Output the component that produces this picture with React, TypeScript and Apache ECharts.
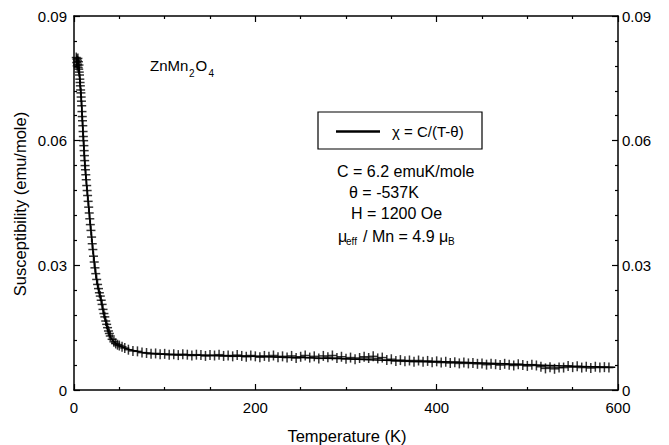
import React, { useEffect, useRef } from "react";
import * as echarts from "echarts";

// Measured points: temperature (K) and susceptibility (emu/mole)
const tempK = [
  2.5, 3.0, 3.2, 3.5, 3.8, 4.0, 4.3, 4.6, 4.9, 5.2, 5.5, 5.8, 6.1, 6.4, 6.7, 7.0, 7.3, 7.6, 7.9, 8.2,
  8.5, 8.8, 9.1, 9.4, 9.7, 10.0, 10.3, 10.6, 10.9, 11.2, 11.5, 11.8, 12.2, 12.6, 13.0, 13.5, 14.0, 14.5,
  15.0, 15.6, 16.2, 16.8, 17.4, 18.0, 18.7, 19.4, 20.1, 20.8, 21.5, 22.3, 23.1, 24.0, 25.0, 26.0, 27.0,
  28.0, 29.0, 30.0, 31.0, 32.0, 33.0, 34.0, 35.0, 36.0, 37.0, 38.0, 39.0, 40.0, 42.0, 44.0, 46.0, 48.0,
  50.0, 53.0, 56.0,
  60, 65, 70, 75, 80, 85, 90, 95, 100, 105, 110, 115, 120, 125, 130, 135, 140, 145, 150, 155, 160, 165,
  170, 175, 180, 185, 190, 195, 200, 205, 210, 215, 220, 225, 230, 235, 240, 245, 250, 255, 260, 265,
  270, 275, 280, 285, 290, 295, 300, 305, 310, 315, 320, 325, 330, 335, 340, 345, 350, 355, 360, 365,
  370, 375, 380, 385, 390, 395, 400, 405, 410, 415, 420, 425, 430, 435, 440, 445, 450, 455, 460, 465,
  470, 475, 480, 485, 490, 495, 500, 505, 510, 515, 520, 525, 530, 535, 540, 545, 550, 555, 560, 565,
  570, 575, 580, 585, 590, 595, 600,
];
const chi = [
  0.0800, 0.0788, 0.0796, 0.0780, 0.0792, 0.0784, 0.0798, 0.0776, 0.0790, 0.0772, 0.0782, 0.0765, 0.0758,
  0.0748, 0.0740, 0.0732, 0.0722, 0.0715, 0.0705, 0.0695, 0.0684, 0.0670, 0.0658, 0.0648, 0.0636, 0.0622,
  0.0610, 0.0600, 0.0588, 0.0576, 0.0564, 0.0552, 0.0540, 0.0530, 0.0518, 0.0506, 0.0492, 0.0480, 0.0468,
  0.0454, 0.0440, 0.0426, 0.0412, 0.0398, 0.0384, 0.0368, 0.0352, 0.0338, 0.0322, 0.0308, 0.0294, 0.0280,
  0.0266, 0.0254, 0.0244, 0.0234, 0.0226, 0.0216, 0.0206, 0.0194, 0.0184, 0.0176, 0.0166, 0.0158, 0.0150,
  0.0142, 0.0136, 0.0130, 0.0122, 0.0116, 0.0112, 0.0109, 0.0107, 0.0104, 0.0101,
  0.0097, 0.0094, 0.0093, 0.0090, 0.0089, 0.0087, 0.0088, 0.0086, 0.0087, 0.0085, 0.0086, 0.0084, 0.0086,
  0.0085, 0.0083, 0.0085, 0.0084, 0.0082, 0.0084, 0.0083, 0.0085, 0.0082, 0.0083, 0.0081, 0.0084, 0.0082,
  0.0080, 0.0083, 0.0081, 0.0079, 0.0082, 0.0080, 0.0083, 0.0079, 0.0081, 0.0078, 0.0082, 0.0077, 0.0080,
  0.0083, 0.0078, 0.0081, 0.0076, 0.0082, 0.0079, 0.0083, 0.0077, 0.0080, 0.0075, 0.0078, 0.0074, 0.0077,
  0.0080, 0.0077, 0.0081, 0.0076, 0.0078, 0.0072, 0.0074, 0.0070, 0.0072, 0.0069, 0.0071, 0.0068, 0.0071,
  0.0068, 0.0070, 0.0067, 0.0069, 0.0066, 0.0068, 0.0065, 0.0067, 0.0064, 0.0066, 0.0064, 0.0065, 0.0063,
  0.0064, 0.0061, 0.0063, 0.0062, 0.0060, 0.0063, 0.0061, 0.0059, 0.0062, 0.0060, 0.0058, 0.0061, 0.0059,
  0.0056, 0.0052, 0.0055, 0.0051, 0.0054, 0.0054, 0.0058, 0.0055, 0.0057, 0.0054, 0.0056, 0.0053, 0.0056,
  0.0054, 0.0055, 0.0054,
];

// Fit curve chi = C/(T - theta)
const fitT = [3, 5, 6, 7, 8, 9, 10, 11, 12, 14, 16, 18, 20, 22, 24, 26, 28, 30, 32, 35, 38, 41, 45, 50, 55, 60, 70, 80, 100, 150, 200, 250, 300, 350, 400, 450, 500, 550, 597];
const fitChi = [0.0795, 0.0780, 0.0760, 0.0730, 0.0700, 0.0655, 0.0612, 0.0575, 0.0540, 0.0490, 0.0445, 0.0400, 0.0355, 0.0315, 0.0280, 0.0252, 0.0232, 0.0215, 0.0192, 0.0165, 0.0140, 0.0125, 0.0114, 0.0107, 0.0102, 0.0098, 0.0093, 0.0089, 0.0086, 0.0083, 0.0081, 0.0078, 0.0075, 0.0071, 0.0068, 0.0065, 0.0061, 0.0057, 0.0055];

const xTicks = { min: 0, max: 600, interval: 200 };
const yTicks = { min: 0, max: 0.09, interval: 0.03 };

const FONT = '"Liberation Sans", Arial, Helvetica, sans-serif';

export default function App() {
  const ref = useRef<HTMLDivElement>(null);

  useEffect(() => {
    if (!ref.current) return;
    const chart = echarts.init(ref.current, undefined, { renderer: "svg" });
    const pts = tempK.map((t, i) => [t, chi[i]]);
    const fit = fitT.map((t, i) => [t, fitChi[i]]);

    const axisCommon = {
      type: "value" as const,
      axisLine: { show: true, onZero: false, lineStyle: { color: "#000", width: 1.5 } },
      axisTick: { show: true, inside: true, length: 6, lineStyle: { color: "#000", width: 1.2 } },
      minorTick: { show: true, length: 3, lineStyle: { color: "#000", width: 1.2 } },
      splitLine: { show: false },
      minorSplitLine: { show: false },
    };
    const yFmt = (v: number) => (v === 0 ? "0" : v.toFixed(2));
    const labelStyle = { color: "#000", fontSize: 15, fontFamily: FONT };

    const txt = (text: string, x: number, y: number, size: number, extra: any = {}) => ({
      type: "text",
      x,
      y,
      silent: true,
      ...extra,
      style: {
        text,
        fill: "#000",
        fontSize: size,
        fontFamily: FONT,
        align: "left",
        verticalAlign: "middle",
        ...(extra.style || {}),
      },
    });

    chart.setOption({
      animation: false,
      backgroundColor: "#fff",
      grid: { left: 74, right: 51, top: 16, bottom: 55 },
      xAxis: [
        {
          ...axisCommon,
          position: "bottom",
          ...xTicks,
          minorTick: { ...axisCommon.minorTick, splitNumber: 4 },
          axisLabel: { ...labelStyle, margin: 10 },
        },
        {
          ...axisCommon,
          position: "top",
          ...xTicks,
          minorTick: { ...axisCommon.minorTick, splitNumber: 4 },
          axisLabel: { show: false },
        },
      ],
      yAxis: [
        {
          ...axisCommon,
          position: "left",
          ...yTicks,
          minorTick: { ...axisCommon.minorTick, splitNumber: 5 },
          axisLabel: { ...labelStyle, margin: 7, formatter: yFmt },
        },
        {
          ...axisCommon,
          position: "right",
          ...yTicks,
          minorTick: { ...axisCommon.minorTick, splitNumber: 5 },
          axisLabel: { ...labelStyle, margin: 4, formatter: yFmt },
        },
      ],
      series: [
        {
          type: "scatter",
          name: "data-h",
          data: pts,
          symbol: "rect",
          symbolSize: [9, 1.5],
          itemStyle: { color: "#000" },
          silent: true,
          z: 2,
        },
        {
          type: "scatter",
          name: "data-v",
          data: pts,
          symbol: "rect",
          symbolSize: [1.5, 10],
          itemStyle: { color: "#000" },
          silent: true,
          z: 2,
        },
        {
          type: "line",
          name: "χ = C/(T-θ)",
          data: fit,
          showSymbol: false,
          symbol: "none",
          smooth: 0.3,
          lineStyle: { color: "#000", width: 1.5 },
          silent: true,
          z: 3,
        },
      ],
      graphic: [
        txt("Temperature (K)", 347, 436, 16.5, { style: { align: "center" } }),
        txt("Susceptibility (emu/mole)", 20, 204, 16.5, { rotation: Math.PI / 2, style: { align: "center" } }),
        txt("ZnMn", 150, 65, 15),
        txt("2", 189, 73, 10),
        txt("O", 195.5, 65, 15),
        txt("4", 208.5, 73, 10),
        {
          type: "rect",
          shape: { x: 318, y: 112, width: 164, height: 37 },
          style: { fill: "#fff", stroke: "#000", lineWidth: 1.2 },
          silent: true,
          z: 10,
        },
        {
          type: "line",
          shape: { x1: 336, y1: 131.5, x2: 380, y2: 131.5 },
          style: { stroke: "#000", lineWidth: 2.5 },
          silent: true,
          z: 11,
        },
        txt("χ = C/(T-θ)", 392, 131.5, 15, { z: 11 }),
        txt("C = 6.2 emuK/mole", 337, 171, 16),
        txt("θ = -537K", 349, 192, 16),
        txt("H = 1200 Oe", 351, 213, 16),
        txt("μ", 338, 236, 16),
        txt("eff", 346, 241, 10),
        txt("/ Mn = 4.9 μ", 363, 236, 16),
        txt("B", 448, 241, 10),
      ],
    });

    return () => chart.dispose();
  }, []);

  return (
    <div
      ref={ref}
      style={{ position: "fixed", left: 0, top: 0, width: 669, height: 445, background: "#fff" }}
    />
  );
}
